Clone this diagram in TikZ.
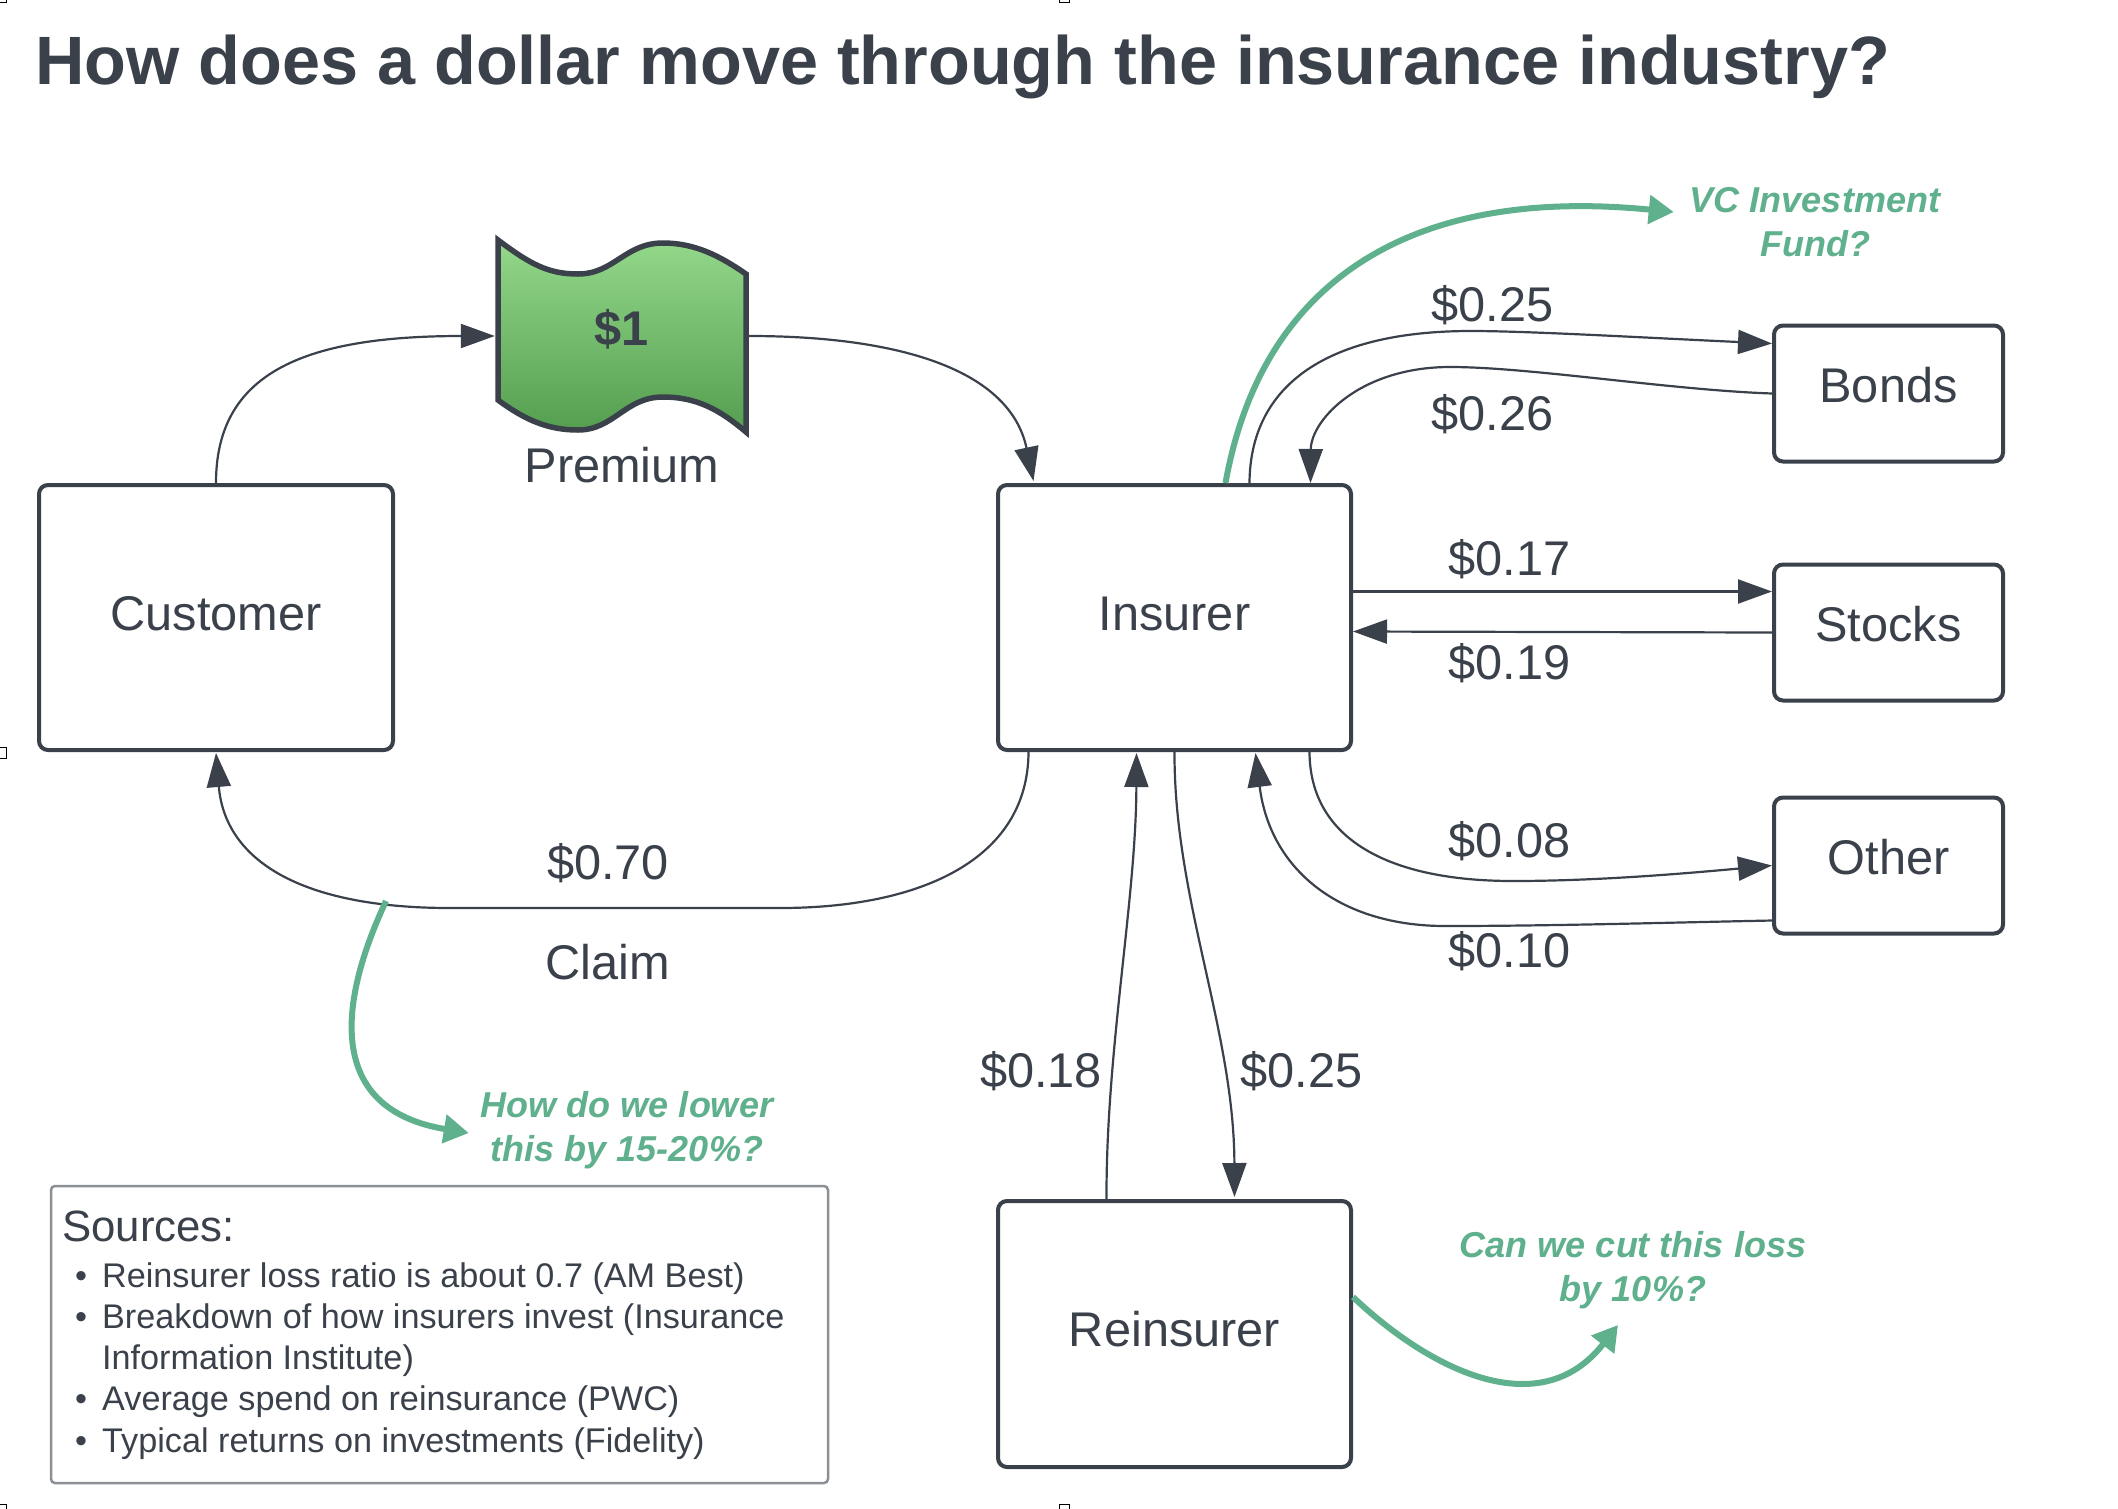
\documentclass[tikz,border=0pt]{standalone}
\usepackage{fontspec}
\setmainfont{Liberation Sans}
\usetikzlibrary{arrows.meta}
\definecolor{ink}{HTML}{3A414A}
\definecolor{sage}{HTML}{5FB08C}
\definecolor{framegray}{HTML}{8C9096}
\definecolor{billtop}{RGB}{148,216,138}
\definecolor{billbot}{RGB}{84,158,80}
\tikzset{
  x=1pt,y=-1pt,
  boxnode/.style={draw=ink,line width=4pt,rounded corners=9pt,inner sep=0pt,align=center,text=ink,font=\fontsize{48.7}{52}\selectfont,text height=35pt,text depth=10pt},
  smallbox/.style={boxnode,minimum width=229pt,minimum height=136pt,text depth=18pt},
  flow/.style={draw=ink,line width=2.2pt,-{Triangle[length=34pt,width=24pt]}},
  greenflow/.style={draw=sage,line width=6pt,-{Triangle[length=25pt,width=28pt]}},
  lab/.style={text=ink,font=\fontsize{48.7}{52}\selectfont,inner sep=0pt},
  note/.style={text=sage,font=\fontsize{36}{44}\selectfont\bfseries\itshape,align=center,inner sep=0pt},
  handlemark/.style={draw=black,line width=1pt},
}
\newcommand{\srcitem}[1]{\makebox[50pt][l]{\hspace{23pt}•}#1}
\begin{document}
\begin{tikzpicture}
\useasboundingbox (0,0) rectangle (2118,1508);
\fill[white] (0,0) rectangle (2118,1508);
% edge marks of the reference
\begin{scope}
\clip (0,0) rectangle (2118,1508);
\draw[handlemark] (1059,-5) rectangle (1069,2);
\draw[handlemark] (1059,1504) rectangle (1069,1513);
\draw[handlemark] (-5,747) rectangle (6,758);
\draw[handlemark] (-5,1504) rectangle (6,1513);
\draw[handlemark] (-5,-5) rectangle (6,2);
\end{scope}
% title
\node[anchor=west,inner sep=0pt,text=ink,font=\fontsize{68.4}{74}\selectfont\bfseries] (title) at (35,67) {How does a dollar move through the insurance industry?};
% money
\draw[ink,line width=5.5pt,miter limit=10,top color=billtop,bottom color=billbot]
  (498,240) .. controls (530,264) and (548,274) .. (578,274) .. controls (614,274) and (625,243) .. (663,243) .. controls (695,243) and (720,256) .. (746,274)
  -- (746,432) .. controls (720,410) and (697,397) .. (663,397) .. controls (625,397) and (614,430) .. (578,430) .. controls (548,430) and (525,420) .. (498,400) -- cycle;
\node[inner sep=0pt,minimum width=254pt,minimum height=190pt,text=ink,font=\fontsize{48.7}{52}\selectfont\bfseries,text height=35pt,text depth=17pt] (money) at (622,336) {\$1};
\node[lab] (premium) at (622,465) {Premium};
% boxes
\node[boxnode,minimum width=354pt,minimum height=265pt] (cust) at (216,617.5) {Customer};
\node[boxnode,minimum width=353pt,minimum height=265pt] (ins) at (1174.5,617.5) {Insurer};
\node[boxnode,minimum width=353pt,minimum height=266pt] (rein) at (1174.5,1334) {Reinsurer};
\node[smallbox] (bonds) at (1888.5,393.5) {Bonds};
\node[smallbox] (stocks) at (1888.5,632.5) {Stocks};
\node[smallbox] (other) at (1888.5,865.5) {Other};
% connectors
\draw[flow] (cust.north) .. controls (216,375) and (300,336) .. (money.west);
\draw[flow] (money.east) .. controls (900,336) and (1010,370) .. ([xshift=-141pt,yshift=2pt]ins.north);
\draw[flow] ([xshift=-146pt]ins.south) .. controls (1028,860) and (920,908) .. (780,908) -- (450,908) .. controls (300,908) and (225,860) .. ([yshift=-1pt]cust.south);
\draw[flow] ([xshift=75pt]ins.north) .. controls (1250,390) and (1320,331) .. (1471,331) .. controls (1530,331) and (1650,338) .. ([yshift=50pt]bonds.west);
\draw[flow] (bonds.west) .. controls (1670,390) and (1530,367) .. (1450,367) .. controls (1360,367) and (1311,420) .. ([xshift=136pt]ins.north);
\draw[flow] ([yshift=26pt]ins.east) -- ([yshift=41pt]stocks.west);
\draw[flow] (stocks.west) -- ([yshift=-14pt]ins.east);
\draw[flow] ([xshift=135pt]ins.south) .. controls (1310,840) and (1390,881) .. (1513,881) .. controls (1600,881) and (1690,873) .. (other.west);
\draw[flow] ([yshift=-55pt]other.west) .. controls (1650,923) and (1550,926) .. (1445,926) .. controls (1340,926) and (1270,870) .. ([xshift=81pt,yshift=-1pt]ins.south);
\draw[flow] ([xshift=-68pt]rein.north) .. controls (1106,1050) and (1136,900) .. ([xshift=-38pt,yshift=-1pt]ins.south);
\draw[flow] (ins.south) .. controls (1174,900) and (1234,1030) .. ([xshift=60pt,yshift=2pt]rein.north);
% green notes
\node[note] (vc) at (1815,222) {VC Investment\\Fund?};
\node[note] (lower) at (627,1130) {How do we lower\\this by 15-20\%?};
\node[note] (cut) at (1633,1270) {Can we cut this loss\\by 10\%?};
\coordinate (claimpt) at (386,901);
\draw[greenflow] ([xshift=51pt]ins.north) .. controls (1260,290) and (1400,185) .. ([xshift=-16pt,yshift=10pt]vc.west);
\draw[greenflow] (claimpt) .. controls (335,1010) and (330,1110) .. ([xshift=-12pt,yshift=-3pt]lower.west);
\draw[greenflow] ([yshift=37pt]rein.east) .. controls (1430,1370) and (1540,1425) .. ([xshift=-15pt,yshift=-16pt]cut.south);
% labels
\node[lab] (l1) at (1492.5,305) {\$0.25};
\node[lab] (l2) at (1492.5,414) {\$0.26};
\node[lab] (l3) at (1509.5,559) {\$0.17};
\node[lab] (l4) at (1509.5,663) {\$0.19};
\node[lab] (l5) at (1509.5,841) {\$0.08};
\node[lab] (l6) at (1509.5,951) {\$0.10};
\node[lab] (l7) at (608,863) {\$0.70};
\node[lab] (l8) at (608,962) {Claim};
\node[lab] (l9) at (1041,1071) {\$0.18};
\node[lab] (l10) at (1301.5,1071) {\$0.25};
% sources
\draw[framegray,line width=2.5pt,rounded corners=4pt] (51,1186) rectangle (828,1483);
\node[anchor=west,inner sep=0pt,text=ink,font=\fontsize{43.8}{50}\selectfont] (srchead) at (62,1226) {Sources:};
\node[anchor=north west,inner sep=0pt,align=left,text=ink,font=\fontsize{34.2}{41.3}\selectfont] (srclist) at (52,1262) {%
\srcitem{Reinsurer loss ratio is about 0.7 (AM Best)}\\
\srcitem{Breakdown of how insurers invest (Insurance}\\
\makebox[50pt]{}Information Institute)\\
\srcitem{Average spend on reinsurance (PWC)}\\
\srcitem{Typical returns on investments (Fidelity)}};
\end{tikzpicture}
\end{document}
